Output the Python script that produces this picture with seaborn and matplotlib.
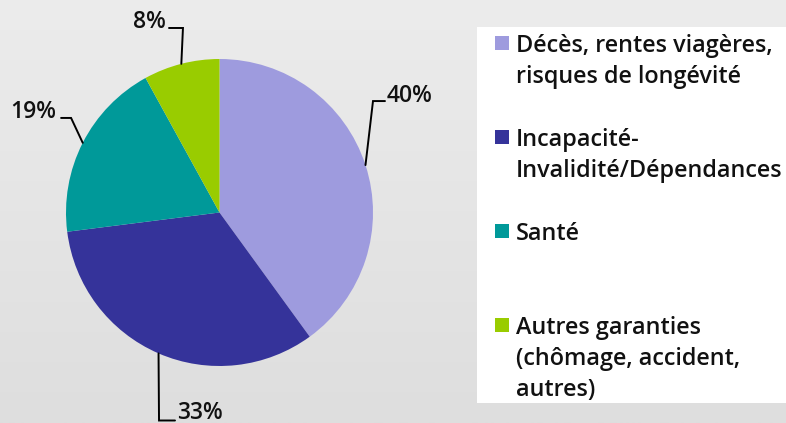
import numpy as np
import matplotlib
matplotlib.use("Agg")
import matplotlib.pyplot as plt
import seaborn as sns
from matplotlib.colors import LinearSegmentedColormap
from matplotlib.patches import Rectangle

# ---- data ----
categories = [
    ["Décès, rentes viagères,", "risques de longévité"],
    ["Incapacité-", "Invalidité/Dépendances"],
    ["Santé"],
    ["Autres garanties", "(chômage, accident,", "autres)"],
]
shares = [40, 33, 19, 8]
share_labels = ["40%", "33%", "19%", "8%"]
colors = ["#9E9BDE", "#35339A", "#009999", "#99CC00"]

sns.set_theme(style="white")
plt.rcParams['font.family'] = ['Open Sans', 'DejaVu Sans']
palette = sns.color_palette(colors)

W, H = 786, 423
fig = plt.figure(figsize=(W / 100, H / 100), dpi=100)

# background gradient
bg = fig.add_axes([0, 0, 1, 1], zorder=0)
grad = np.linspace(0, 1, 256).reshape(-1, 1)
cmap = LinearSegmentedColormap.from_list('bg', ['#ECECEC', '#DEDEDE'])
bg.imshow(grad, aspect='auto', cmap=cmap, extent=[0, 1, 0, 1], origin='upper')
bg.set_axis_off()

def fx(x):
    return x / W

def fy(y):
    return 1 - y / H

# legend white panel
fig.patches.append(Rectangle((fx(477), fy(403)), 1 - fx(477), (403 - 27) / H,
                             transform=fig.transFigure, facecolor='white',
                             edgecolor='none', zorder=1))

# pie
cx, cy, R = 219.5, 212.5, 153.5
ax = fig.add_axes([fx(cx - R), fy(cy + R), 2 * R / W, 2 * R / H], zorder=2)
wedges, _ = ax.pie(shares, colors=palette, startangle=90, counterclock=False,
                   radius=1, wedgeprops=dict(linewidth=0))
ax.set_xlim(-1, 1)
ax.set_ylim(-1, 1)
ax.set_axis_off()

# leader lines and labels (layout in radius units)
elbows = [(1.0, 0.726), (-0.394, -1.355), (-0.967, 0.616), (-0.238, 1.202)]
ends_x = [1.078, -0.29, -1.032, -0.329]
text_pos = [(1.09, 0.72, 'left'), (-0.277, -1.345, 'left'),
            (-1.066, 0.616, 'right'), (-0.349, 1.202, 'right')]
for w, lab, (ex, ey), endx, (tx, ty, ha) in zip(wedges, share_labels, elbows, ends_x, text_pos):
    th = np.deg2rad((w.theta1 + w.theta2) / 2)
    sx, sy = np.cos(th), np.sin(th)
    ax.plot([sx, ex, endx], [sy, ey, ey], color='black', lw=1.4, clip_on=False,
            solid_joinstyle='miter')
    ax.text(tx, ty, lab, ha=ha, va='baseline', fontsize=16.5, fontweight='semibold',
            color='#111111', clip_on=False)

# legend (manual to match spacing)
first_baselines = [52, 146, 240, 334]
line_step = 31
for lines, col, b in zip(categories, palette, first_baselines):
    fig.patches.append(Rectangle((fx(495), fy(b - 2)), 14 / W, 14 / H,
                                 transform=fig.transFigure, facecolor=col,
                                 edgecolor='none', zorder=3))
    for i, ln in enumerate(lines):
        fig.text(fx(516), fy(b + i * line_step), ln, ha='left', va='baseline',
                 fontsize=16.8, fontweight='semibold', color='#111111', zorder=4)

fig.savefig("out.png", dpi=100)
